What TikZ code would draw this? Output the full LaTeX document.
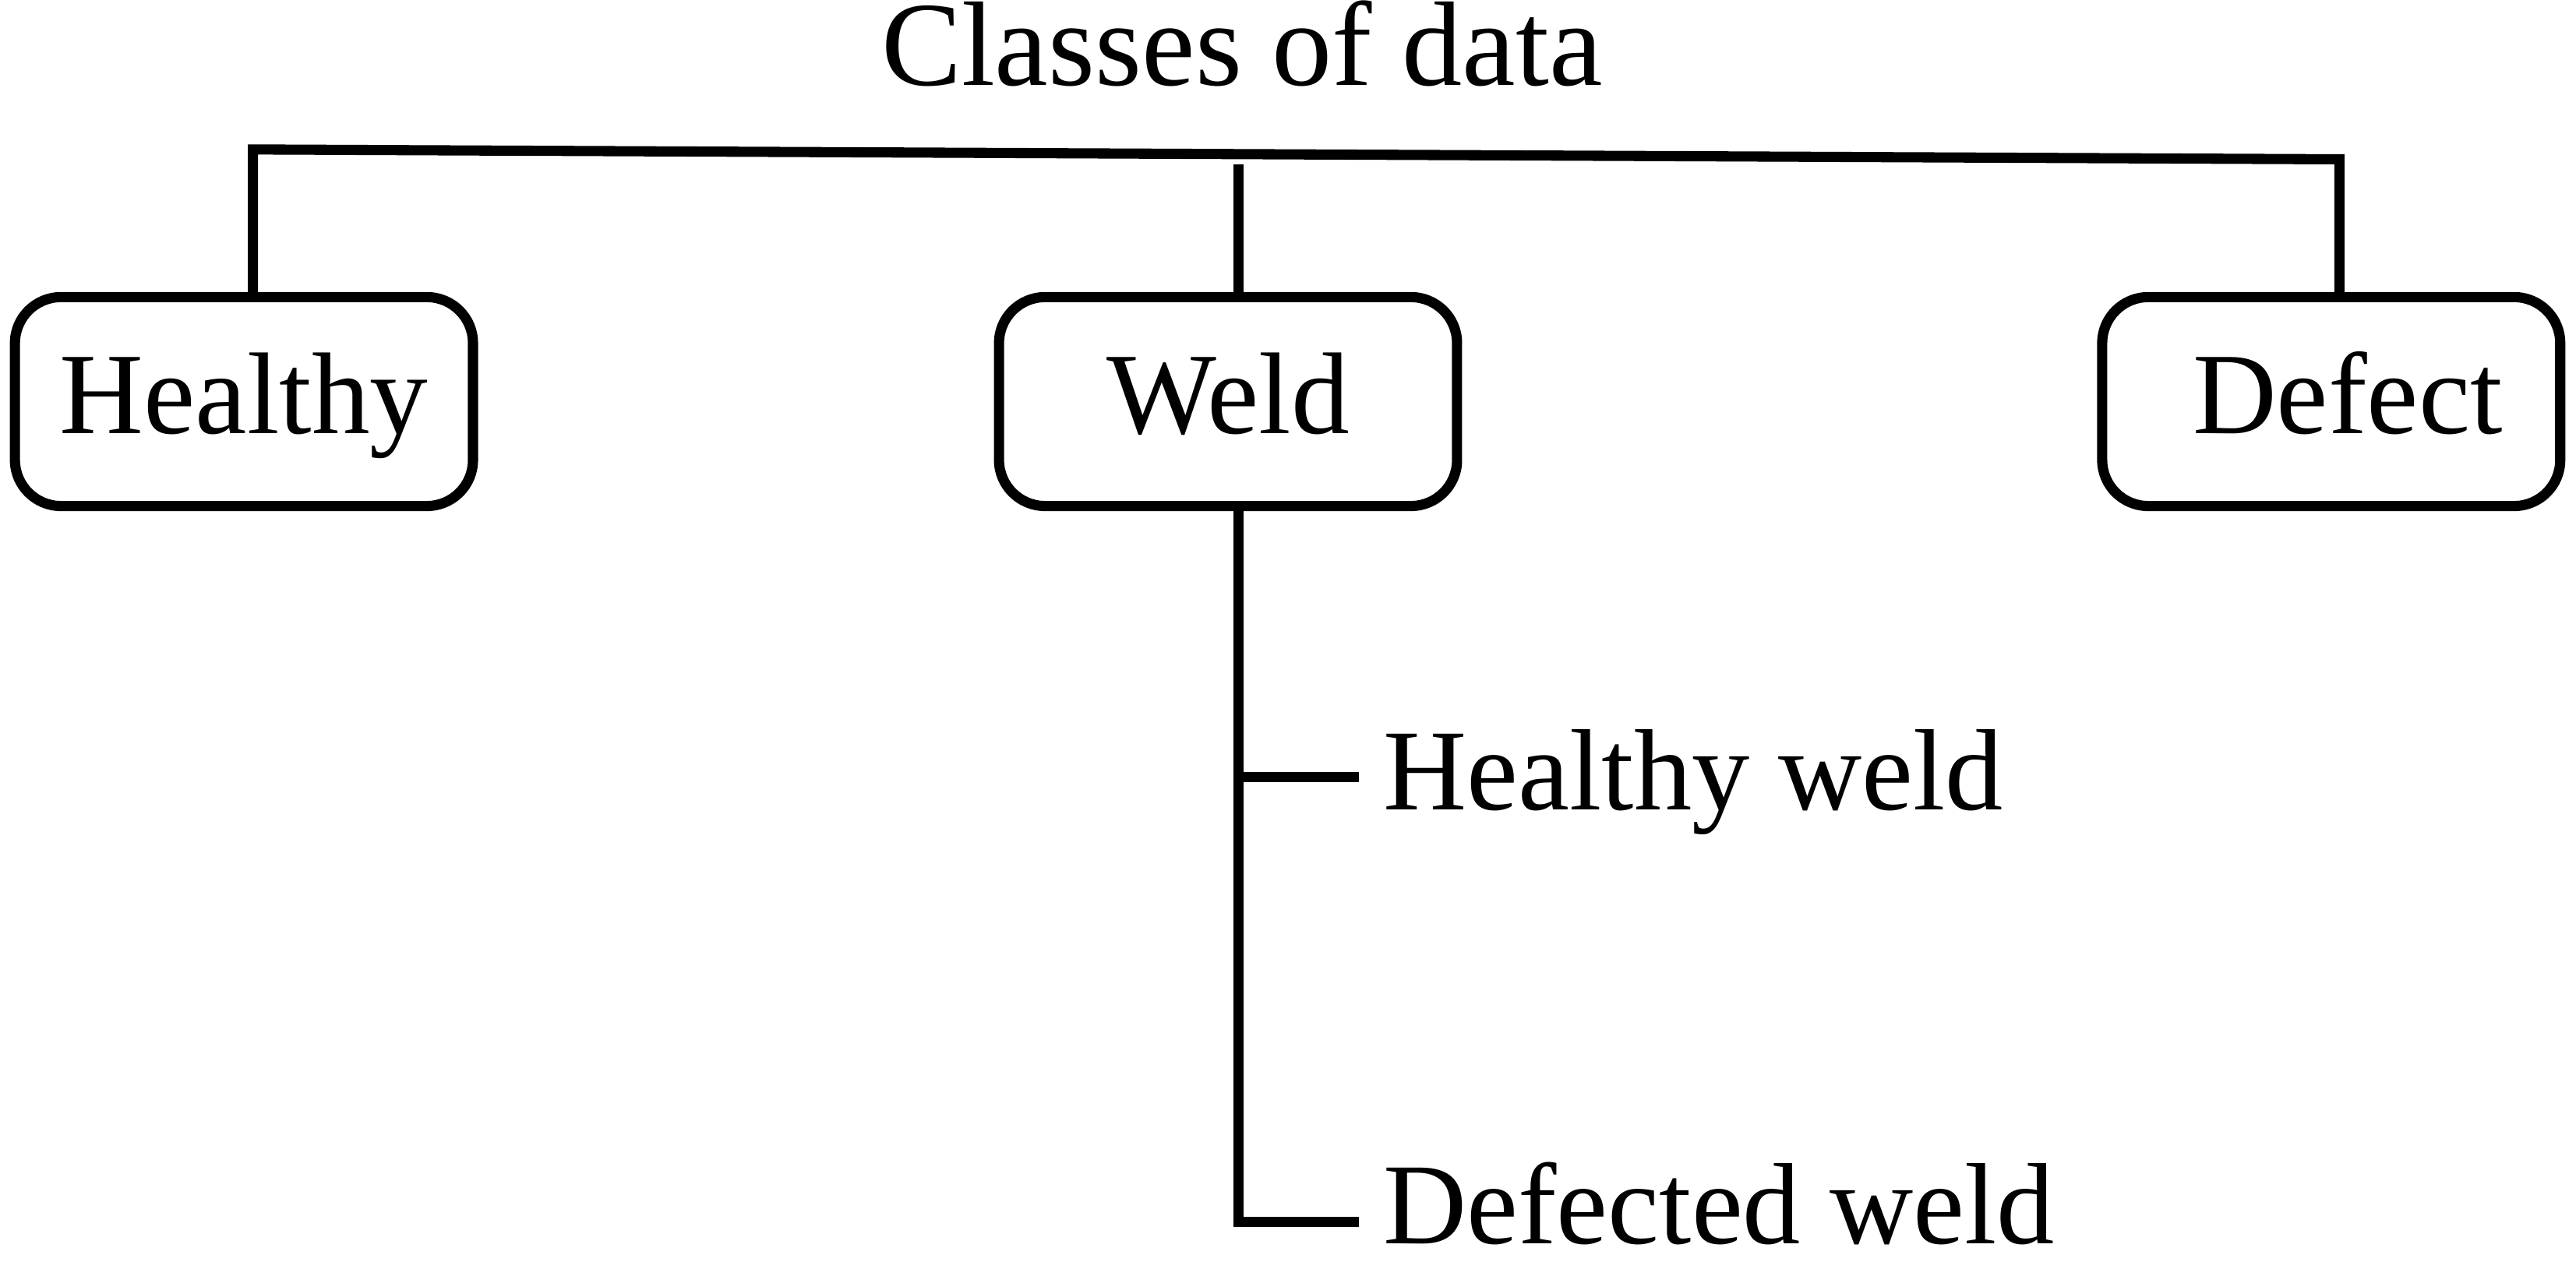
\documentclass[tikz,border=0pt]{standalone}
\usepackage{fontspec}
\setmainfont{Liberation Serif}

\begin{document}
\begin{tikzpicture}[x=0.25pt, y=-0.25pt, line width=1.55pt,
  classbox/.style={draw, rounded corners=7pt, inner sep=0pt,
    minimum width=69.7pt, minimum height=31.8pt,
    font=\fontsize{17.7}{20}\selectfont, text height=13.2pt, text depth=3.5pt},
  leaf/.style={anchor=base west, inner sep=0pt, font=\fontsize{17.6}{20}\selectfont}]
\useasboundingbox (0,0) rectangle (1568,768);
\node[anchor=base, inner sep=0pt, font=\fontsize{18.3}{20}\selectfont] (title) at (756,52) {Classes of data};
\node[classbox] (healthy) at ( 148.5,244.5) {Healthy};
\node[classbox] (weld)    at ( 747.5,244.5) {Weld};
\node[classbox] (defect)  at (1419,  244.5) {\hspace*{5pt}Defect};
\node[leaf] (hweld) at (839,493) {Healthy weld};
\node[leaf] (dweld) at (839,757) {Defected weld};
% tree lines
\coordinate (tl) at (154,91);
\coordinate (tr) at (1424,97);
\coordinate (wt) at (754,100);
\coordinate (he) at (827,473);
\coordinate (de) at (827,744);
\draw (healthy.north -| tl) -- (tl) -- (tr) -- (tr |- defect.north);
\draw (wt) -- (wt |- weld.north);
\draw (wt |- weld.south) -- (wt |- de) -- (de);
\draw (wt |- he) -- (he);
\end{tikzpicture}
\end{document}
